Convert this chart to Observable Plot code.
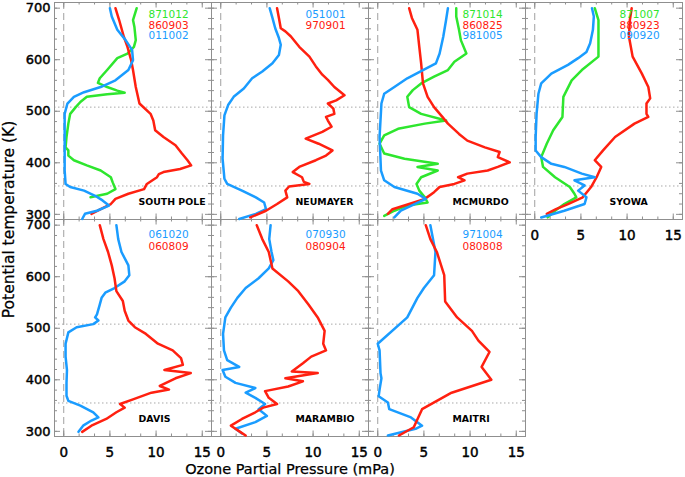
<!DOCTYPE html>
<html><head><meta charset="utf-8">
<script src="https://cdn.jsdelivr.net/npm/d3@7"></script>
<script src="https://cdn.jsdelivr.net/npm/@observablehq/plot@0.6"></script>
<style>
body{margin:0;background:#fff}#chart{width:685px;height:477px}
#chart [aria-label$="tick label"] text{stroke:#000;stroke-width:0.45px}
#chart .axis-title{stroke:#000;stroke-width:0.25px}
</style>
</head><body><div id="chart"></div>
<script>
// ---- Data: [potential temperature (K), ozone partial pressure (mPa)] ----
const sp871012 = [[700,7.9],[677,7.5],[664,7.65],[638,7.8],[625,7.6],[612,6.9],[603,5.8],[580,4.7],[564,3.9],[555,3.7],[547,4.7],[540,5.8],[536,6.6],[533,4.7],[528,2.5],[518,1.8],[508,1.3],[495,0.7],[476,0.5],[450,0.3],[430,0.2],[424,0.5],[414,0.5],[405,1.1],[395,2.5],[385,4.0],[372,5.1],[362,5.3],[349,5.6],[340,4.7],[333,2.9]];
const sp860903 = [[700,5.6],[677,6.0],[645,6.5],[625,6.9],[599,7.3],[580,7.5],[547,7.8],[515,8.2],[495,9.4],[482,9.7],[463,9.9],[450,10.8],[434,12.1],[418,12.8],[405,13.4],[395,13.8],[388,12.6],[382,10.8],[378,10.3],[372,10.1],[359,9.0],[349,8.7],[340,7.0],[330,5.6],[320,5.1],[310,4.0],[301,3.0]];
const sp011002 = [[700,5.0],[684,5.2],[658,5.8],[638,6.7],[619,7.4],[599,7.5],[580,7.0],[560,5.6],[547,4.0],[537,2.2],[528,1.1],[515,0.4],[495,0.1],[450,0.1],[385,0.1],[359,0.2],[353,0.7],[346,2.2],[336,3.4],[327,4.2],[317,4.9],[307,3.6],[301,2.3],[291,2.0]];
const nm051001 = [[700,5.3],[681,5.6],[661,5.9],[642,6.3],[629,6.5],[609,6.3],[593,5.6],[577,4.5],[564,3.4],[544,2.5],[528,1.4],[512,0.8],[492,0.4],[453,0.25],[408,0.2],[369,0.4],[359,0.7],[346,2.3],[333,3.8],[323,4.7],[310,4.9],[301,3.8],[291,2.0]];
const nm970901 = [[700,6.1],[681,6.3],[661,6.5],[655,7.0],[645,7.6],[625,8.5],[606,9.6],[587,10.3],[571,11.0],[561,11.6],[547,12.3],[531,13.4],[521,12.5],[515,11.6],[505,12.2],[495,12.3],[489,11.4],[482,11.6],[470,12.0],[460,11.0],[447,9.2],[437,10.6],[424,12.1],[414,11.4],[405,10.3],[392,8.5],[382,7.8],[372,8.8],[363,9.0],[359,9.6],[354,7.4],[346,7.0],[333,7.2],[320,6.1],[307,4.9],[294,3.2]];
const mc871014 = [[700,8.5],[684,8.5],[658,8.8],[638,9.0],[612,9.6],[596,8.3],[580,7.6],[567,6.1],[554,4.7],[541,3.8],[528,3.2],[508,3.4],[495,4.7],[482,7.4],[476,5.1],[466,2.2],[453,0.7],[437,0.2],[418,0.7],[408,2.9],[398,6.5],[392,4.3],[385,6.5],[372,4.7],[359,4.2],[346,4.5],[333,5.1],[323,5.4],[317,3.2],[307,1.8],[297,0.7]];
const mc860825 = [[700,3.4],[681,3.7],[658,4.3],[625,4.5],[593,4.7],[554,4.9],[528,5.4],[508,6.1],[489,7.0],[476,7.6],[456,8.8],[443,9.7],[430,11.6],[421,13.2],[411,13.0],[401,14.3],[392,13.0],[385,11.9],[379,9.7],[372,8.7],[366,9.4],[359,8.3],[353,6.7],[343,6.1],[330,5.1],[320,3.4],[310,1.6],[301,1.1]];
const mc981005 = [[700,7.6],[677,7.4],[645,7.1],[612,6.7],[593,6.3],[580,4.9],[564,3.2],[547,1.8],[534,0.7],[515,0.4],[450,0.2],[385,0.35],[366,0.7],[353,1.8],[340,4.3],[330,5.2],[320,4.0],[307,2.5],[294,1.8]];
const sy871007 = [[700,6.5],[677,6.9],[645,6.9],[606,6.9],[580,5.1],[560,4.0],[528,3.1],[489,3.0],[463,2.0],[437,1.3],[411,0.7],[392,0.9],[372,2.2],[353,3.8],[340,4.3],[333,4.5],[320,3.2],[307,2.2],[294,1.4]];
const sy880923 = [[700,10.5],[677,10.3],[645,10.2],[606,10.6],[573,11.6],[547,12.3],[525,12.5],[515,12.1],[495,12.1],[489,12.3],[476,10.8],[450,8.7],[424,7.4],[405,6.5],[392,7.2],[372,6.7],[353,6.1],[333,5.2],[320,3.6],[310,2.3],[301,1.3]];
const sy090920 = [[700,6.2],[684,6.4],[658,6.3],[632,6.0],[615,5.6],[603,4.7],[590,3.6],[573,1.8],[554,0.7],[534,0.4],[495,0.2],[450,0.1],[424,0.1],[411,0.7],[398,1.8],[392,3.2],[379,5.1],[372,6.5],[366,4.3],[356,5.4],[346,4.7],[333,5.6],[320,5.4],[307,3.2],[294,0.7]];
const dv061020 = [[700,5.7],[673,5.9],[648,6.25],[622,7.0],[603,7.1],[591,6.6],[578,5.5],[569,4.5],[559,4.1],[546,3.9],[527,3.6],[521,3.4],[515,3.75],[508,3.2],[502,1.4],[492,0.5],[470,0.2],[445,0.2],[419,0.35],[394,0.3],[369,0.3],[359,0.5],[350,1.8],[337,3.2],[327,3.75],[321,3.0],[311,2.1],[299,1.6]];
const dv060809 = [[700,3.9],[673,4.3],[648,4.8],[622,5.2],[597,5.5],[572,5.7],[553,6.4],[534,6.6],[515,7.0],[502,7.7],[489,8.9],[470,10.2],[457,11.8],[442,12.7],[429,12.9],[419,10.9],[413,13.75],[403,12.1],[388,10.4],[381,11.4],[375,9.5],[362,7.5],[353,6.1],[346,6.6],[337,5.7],[324,4.6],[311,3.0],[299,2.0]];
const mb070930 = [[700,5.4],[673,5.25],[648,5.5],[632,5.7],[616,5.2],[597,4.1],[578,2.7],[559,1.8],[540,1.1],[521,0.5],[489,0.25],[457,0.35],[438,0.7],[425,2.0],[419,0.2],[406,0.5],[394,1.6],[384,3.75],[375,2.7],[365,3.75],[353,4.8],[343,4.1],[330,5.0],[318,3.75],[305,1.6],[296,2.3]];
const mb080904 = [[700,3.9],[673,4.5],[648,5.2],[616,5.6],[591,7.3],[572,8.4],[546,9.5],[521,10.5],[495,11.25],[470,11.1],[457,11.4],[445,9.8],[432,8.9],[416,7.7],[413,10.5],[403,7.0],[397,8.9],[387,7.3],[378,4.8],[365,5.2],[353,6.1],[346,4.6],[337,3.75],[324,2.3],[311,1.1],[299,2.1],[292,2.7]];
const mt971004 = [[700,5.7],[648,6.25],[603,6.1],[578,5.0],[559,4.3],[521,3.2],[470,0.0],[457,0.2],[413,0.3],[403,0.4],[381,0.2],[368,0.1],[356,1.1],[343,1.25],[327,3.6],[311,4.8],[305,4.1],[292,1.1]];
const mt080808 = [[700,5.2],[673,5.7],[648,6.4],[603,7.2],[552,7.3],[521,8.6],[495,10.2],[476,10.9],[454,12.1],[425,11.25],[400,12.3],[375,8.0],[343,4.8],[308,3.9],[292,2.3]];

const stations = ["SOUTH POLE","NEUMAYER","MCMURDO","SYOWA","DAVIS","MARAMBIO","MAITRI"];
// Dates per station in legend order, with their series kind
const stationDates = [
  [["871012","g",sp871012],["860903","r",sp860903],["011002","b",sp011002]],
  [["051001","b",nm051001],["970901","r",nm970901]],
  [["871014","g",mc871014],["860825","r",mc860825],["981005","b",mc981005]],
  [["871007","g",sy871007],["880923","r",sy880923],["090920","b",sy090920]],
  [["061020","b",dv061020],["060809","r",dv060809]],
  [["070930","b",mb070930],["080904","r",mb080904]],
  [["971004","b",mt971004],["080808","r",mt080808]]
];
const kinds = ["g","r","b"];
const kindColors = ["#2ee62e","#ff2010","#1a9cff"];
const yMajor = [300,400,500,600,700];
const yMinor = d3.range(300,701,20);
const xMajor = [0,5,10,15];
const xMinor = d3.range(0,16.01,5/3);
const refLevels = [508,355];

// ---- Build tables ----
const stationTable = stations.map((s,i)=>({station:s, col:i%4, row:Math.floor(i/4)}));
const legendTable = stationDates.flatMap((list,i)=>list.map(([date,kind],j)=>({
  date, kind, line:j+1, col:stationTable[i].col, row:stationTable[i].row})));
const points = stationDates.flatMap((list,i)=>list.flatMap(([date,kind,pts])=>pts.map(([theta,o3])=>({
  theta, o3, kind, key:stations[i]+date, col:stationTable[i].col, row:stationTable[i].row}))));

const W = 685, H = 477, ML = 54, MR = 3, MT = 1, MB = 41;
const cellW = (W-ML-MR)/4, cellH = (H-MT-MB)/2;
const gray = "#8f8f8f";
const font = "DejaVu Sans";

const legendSpec = [[0,1,12.5],[0,2,23],[0,3,33.5],[1,1,15],[1,2,27.5]];

const chart = Plot.plot({
  width: W, height: H,
  marginLeft: ML, marginRight: MR, marginTop: MT, marginBottom: MB,
  style: {fontFamily: font, background: "white", color: "black"},
  x: {domain: [-1,16], label: null},
  y: {domain: [290,711], label: null},
  fx: {axis: null, padding: 0, domain: [0,1,2,3]},
  fy: {axis: null, padding: 0, domain: [0,1]},
  color: {domain: kinds, range: kindColors},
  marks: [
    Plot.ruleX([0], {stroke: "#a0a0a0", strokeDasharray: "7,4"}),
    Plot.ruleY(refLevels, {stroke: "#a8a8a8", strokeDasharray: "1.5,2.5"}),
    Plot.tickY(yMinor, {y: d=>d, insetRight: cellW-3, stroke: gray}),
    Plot.tickY(yMinor, {y: d=>d, insetLeft: cellW-3, stroke: gray}),
    Plot.tickY(yMajor, {y: d=>d, insetRight: cellW-6, stroke: gray}),
    Plot.tickY(yMajor, {y: d=>d, insetLeft: cellW-6, stroke: gray}),
    Plot.tickX(xMinor, {x: d=>d, insetTop: cellH-3, stroke: gray}),
    Plot.tickX(xMinor, {x: d=>d, insetBottom: cellH-3, stroke: gray}),
    Plot.tickX(xMajor, {x: d=>d, insetTop: cellH-6, stroke: gray}),
    Plot.tickX(xMajor, {x: d=>d, insetBottom: cellH-6, stroke: gray}),
    Plot.frame({stroke: gray}),
    Plot.line(points, {x: "o3", y: "theta", z: "key", stroke: "kind", fx: "col", fy: "row",
      strokeWidth: 2.5, strokeLinejoin: "round", strokeLinecap: "round"}),
    ...legendSpec.map(([r,l,dy]) => Plot.text(legendTable.filter(d=>d.row===r && d.line===l), {
      fx: "col", fy: "row", text: "date", fill: "kind", frameAnchor: "top-left",
      dx: 94, dy, textAnchor: "start", lineAnchor: "middle", fontSize: 10.5})),
    Plot.text(stationTable, {fx: "col", fy: "row", text: "station", frameAnchor: "bottom-left",
      dx: 84, dy: -17.5, textAnchor: "start", lineAnchor: "middle", fontSize: 9.4, fontWeight: "bold", fill: "black"}),
    Plot.axisY({ticks: yMajor, tickSize: 0, tickPadding: 4, fontSize: 13, fill: "black"}),
    Plot.axisX({ticks: xMajor, tickSize: 0, tickPadding: 11, fontSize: 13.5, fill: "black"}),
    Plot.text([{col:1,row:1}], {fx: "col", fy: "row", text: () => "Ozone Partial Pressure (mPa)",
      frameAnchor: "bottom", dy: 33, lineAnchor: "middle", textAnchor: "middle", fontSize: 14.5, fill: "black", className: "axis-title"}),
    Plot.text([{col:0,row:0}], {fx: "col", fy: "row", text: () => "Potential temperature (K)",
      frameAnchor: "bottom-left", dx: -45, rotate: -90, lineAnchor: "middle", textAnchor: "middle", fontSize: 15.5, fill: "black", className: "axis-title"})
  ]
});
document.getElementById("chart").append(chart);
</script></body></html>
